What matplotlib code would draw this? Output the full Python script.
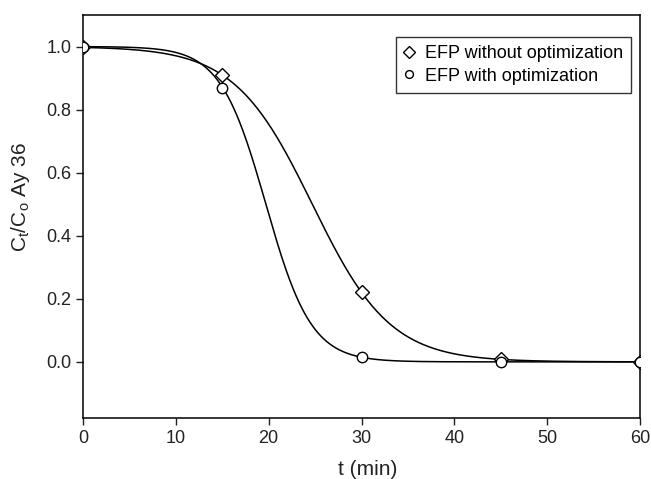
import numpy as np
import matplotlib
matplotlib.use("Agg")
import matplotlib.pyplot as plt

plt.rcParams['font.family'] = ['Liberation Sans', 'DejaVu Sans']

t_min = [0, 15, 30, 45, 60]
without_opt = [1.0, 0.91, 0.222, 0.01, 0.0]
with_opt = [1.0, 0.87, 0.015, 0.0, 0.0]
x_ticks = [0, 10, 20, 30, 40, 50, 60]
y_ticks = [0.0, 0.2, 0.4, 0.6, 0.8, 1.0]
labels = ["EFP without optimization", "EFP with optimization"]


def fit_sigmoid(x, y):
    x = np.asarray(x, float)
    y = np.asarray(y, float)
    best = None
    for x0 in np.linspace(10, 35, 251):
        for b in np.linspace(1, 10, 181):
            pred = 1.0 / (1.0 + np.exp((x - x0) / b))
            err = np.sum((pred - y) ** 2)
            if best is None or err < best[0]:
                best = (err, x0, b)
    return best[1], best[2]


fig = plt.figure(figsize=(6.51, 4.79), dpi=100)
ax = fig.add_axes([83 / 651, 1 - 418 / 479, (640 - 83) / 651, (418 - 15) / 479])

xs = np.linspace(0, 60, 600)
for ydata in (without_opt, with_opt):
    x0, b = fit_sigmoid(t_min, ydata)
    ax.plot(xs, 1.0 / (1.0 + np.exp((xs - x0) / b)), color='black', lw=1.1, zorder=2)

ax.plot(t_min, without_opt, linestyle='none', marker='D', markersize=7.5,
        markerfacecolor='white', markeredgecolor='black', markeredgewidth=1.0,
        label=labels[0], zorder=3)
ax.plot(t_min, with_opt, linestyle='none', marker='o', markersize=7.5,
        markerfacecolor='white', markeredgecolor='black', markeredgewidth=1.0,
        label=labels[1], zorder=3)

ax.set_xlim(0, 60)
ax.set_ylim(-0.178, 1.10)
ax.set_xticks(x_ticks)
ax.set_yticks(y_ticks)
ax.set_yticklabels([f"{v:.1f}" for v in y_ticks])
ax.tick_params(direction='out', length=5, width=1, labelsize=13, colors='#222222')
for s in ax.spines.values():
    s.set_linewidth(1.1)

ax.set_xlabel("t (min)", fontsize=15, color='#222222')
ax.set_ylabel(r"C$_\mathregular{t}$/C$_\mathregular{o}$ Ay 36", fontsize=15, color='#222222')
ax.xaxis.set_label_coords(0.511, -0.105)
ax.yaxis.set_label_coords(-0.091, 0.548)

leg = ax.legend(loc='upper right', bbox_to_anchor=(0.984, 0.945), fontsize=13,
                frameon=True, fancybox=False, edgecolor='black', handlelength=0.6,
                handletextpad=0.55, borderpad=0.45, labelspacing=0.3, markerscale=0.75,
                borderaxespad=0)
leg.get_frame().set_linewidth(1.0)

fig.savefig("out.png", dpi=100)
